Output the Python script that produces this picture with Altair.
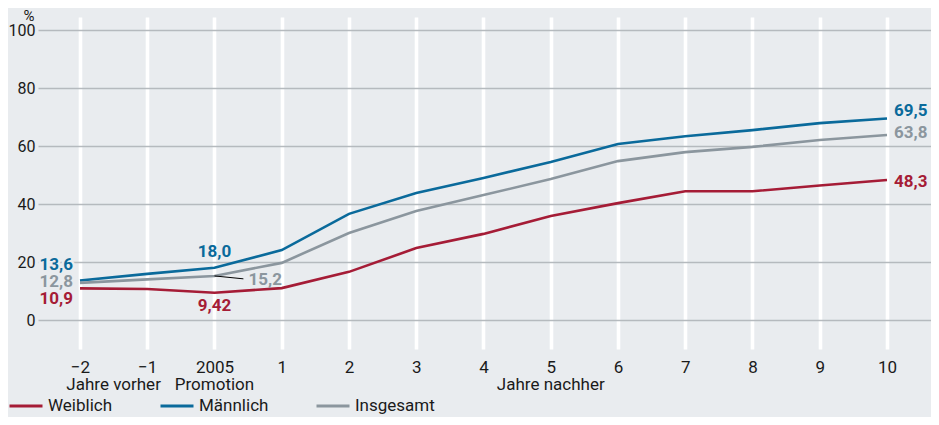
import altair as alt
import pandas as pd

# ---- data ----
x_vals = [-2, -1, 0, 1, 2, 3, 4, 5, 6, 7, 8, 9, 10]
x_tick_labels = ["\u22122", "\u22121", "2005", "1", "2", "3", "4", "5", "6", "7", "8", "9", "10"]
weiblich = [10.9, 10.7, 9.42, 11.0, 16.6, 24.8, 29.7, 35.9, 40.3, 44.4, 44.4, 46.4, 48.3]
maennlich = [13.6, 15.9, 18.0, 24.1, 36.6, 43.8, 49.0, 54.5, 60.7, 63.4, 65.5, 67.9, 69.5]
insgesamt = [12.8, 14.0, 15.2, 19.7, 30.0, 37.6, 43.1, 48.6, 54.8, 57.9, 59.7, 62.1, 63.8]
series_names = ["Weiblich", "M\u00e4nnlich", "Insgesamt"]
series_colors = ["#a51c36", "#0a6a9b", "#8b969e"]
sub_labels = ["Jahre vorher", "Promotion", "Jahre nachher"]
sub_label_x = [-1.5, 0, 5]
y_ticks = [0, 20, 40, 60, 80, 100]

BG = "#e9ecef"
FONT = "Roboto"
INK = "#1a1a1a"

rows = []
for name, vals in zip(series_names, [weiblich, maennlich, insgesamt]):
    for x, v in zip(x_vals, vals):
        rows.append({"serie": name, "x": x, "v": v,
                     "txt": ("%.1f" % v if abs(v * 10 - round(v * 10)) < 1e-9 else "%.2f" % v).replace(".", ",")})
df = pd.DataFrame(rows)

sub_df = pd.DataFrame({"x": sub_label_x, "t": sub_labels})

label_map = "{" + ",".join("'%d':'%s'" % (v, t) for v, t in zip(x_vals, x_tick_labels)) + "}"

xscale = alt.Scale(domain=[-2.6245, 10.6543], nice=False, zero=False)
yscale = alt.Scale(domain=[-10, 104.5], nice=False, zero=False)
color_scale = alt.Scale(domain=series_names, range=series_colors)

base = alt.Chart(df)

lines = base.mark_line(strokeWidth=2.6).encode(
    x=alt.X("x:Q", scale=xscale,
            axis=alt.Axis(values=x_vals, labelExpr=label_map + "[datum.value]",
                          title=None, domain=False, ticks=False, grid=True,
                          gridColor="white", gridWidth=3.6, labelPadding=10,
                          labelFontSize=17, labelFont=FONT, labelColor=INK)),
    y=alt.Y("v:Q", scale=yscale,
            axis=alt.Axis(values=y_ticks, title="%", titleAngle=0, titleAlign="right",
                          titleX=-4, titleY=-9, titleBaseline="top",
                          titleFont=FONT, titleFontSize=15, titleFontWeight="normal",
                          titleColor=INK,
                          domain=False, ticks=False, grid=True, gridColor="#b5babe",
                          gridWidth=1.6, labelPadding=3, labelFontSize=16,
                          labelFont=FONT, labelColor=INK)),
    color=alt.Color("serie:N", scale=color_scale, sort=series_names,
                    legend=alt.Legend(title=None, orient="none", legendX=-30, legendY=371,
                                      direction="horizontal", symbolType="stroke",
                                      symbolSize=1089, symbolStrokeWidth=3,
                                      labelFont=FONT, labelFontSize=17, labelColor=INK,
                                      labelOffset=4, columnPadding=41, padding=0)),
)

# label specs: (series, x, dx, dy, align, halo)
label_specs = [
    ("M\u00e4nnlich", -2, -7, -16, "right", True),
    ("Insgesamt", -2, -7, -1, "right", False),
    ("Weiblich", -2, -7, 11, "right", False),
    ("M\u00e4nnlich", 0, 0, -16, "center", False),
    ("Insgesamt", 0, 34, 4, "left", False),
    ("Weiblich", 0, 0, 13, "center", False),
    ("M\u00e4nnlich", 10, 7, -7, "left", False),
    ("Insgesamt", 10, 7, -2, "left", False),
    ("Weiblich", 10, 7, 2, "left", False),
]

layers = [lines]
# leader line for the 15,2 label
leader = base.transform_filter(
    (alt.datum.serie == "Insgesamt") & (alt.datum.x == 0)
).transform_calculate(x2="datum.x + 0.43", v2="datum.v - 1.0").mark_rule(
    color="black", strokeWidth=1
).encode(x="x:Q", y="v:Q", x2="x2:Q", y2="v2:Q")
layers.append(leader)

for s, xv, dx, dy, al, halo in label_specs:
    sel = base.transform_filter((alt.datum.serie == s) & (alt.datum.x == xv))
    enc = dict(x="x:Q", y="v:Q", text="txt:N")
    if halo:
        layers.append(sel.mark_text(dx=dx, dy=dy, align=al, baseline="middle", font=FONT,
                                    fontSize=17, fontWeight="bold", stroke=BG,
                                    strokeWidth=5, fill=BG).encode(**enc))
    layers.append(sel.mark_text(dx=dx, dy=dy, align=al, baseline="middle", font=FONT,
                                fontSize=17, fontWeight="bold").encode(
        color=alt.Color("serie:N", scale=color_scale, legend=None), **enc))

subs = alt.Chart(sub_df).mark_text(font=FONT, fontSize=17, color=INK,
                                   baseline="middle").encode(
    x=alt.X("x:Q", scale=xscale), y=alt.value(368), text="t:N")
layers.append(subs)

chart = alt.layer(*layers).properties(
    width=893, height=332, background=BG,
    padding={"left": 30, "top": 9, "right": 0, "bottom": 68},
    autosize=alt.AutoSizeParams(type="none"),
).configure_view(stroke=None, fill=BG)

chart.save("out.html", embed_options={"renderer": "svg", "actions": False})
